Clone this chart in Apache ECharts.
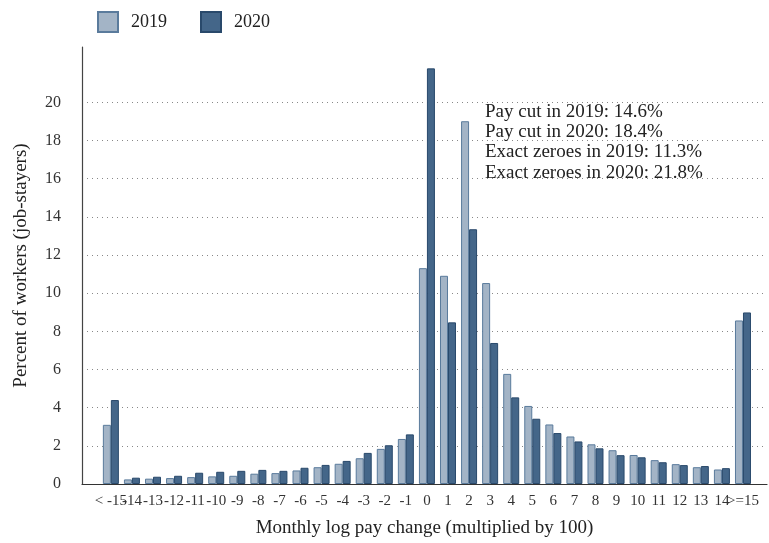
<!DOCTYPE html>
<html>
<head>
<meta charset="utf-8">
<script src="https://cdn.jsdelivr.net/npm/echarts@6/dist/echarts.min.js"></script>
<style>html,body{margin:0;padding:0;background:#fff}#c{width:769px;height:543px}</style>
</head>
<body>
<div id="c"></div>
<script>
// Category positions (-15 = "< -15", 15 = ">=15")
const positions = [-15,-14,-13,-12,-11,-10,-9,-8,-7,-6,-5,-4,-3,-2,-1,0,1,2,3,4,5,6,7,8,9,10,11,12,13,14,15];
const tickLabels = ['< -15','-14','-13','-12','-11','-10','-9','-8','-7','-6','-5','-4','-3','-2','-1','0','1','2','3','4','5','6','7','8','9','10','11','12','13','14','>=15'];
const values2019 = [3.10,0.24,0.28,0.31,0.36,0.40,0.43,0.54,0.57,0.71,0.88,1.06,1.35,1.84,2.36,11.31,10.91,19.01,10.53,5.77,4.09,3.12,2.49,2.08,1.77,1.52,1.25,1.04,0.88,0.76,8.57];
const values2020 = [4.40,0.33,0.38,0.43,0.59,0.64,0.69,0.74,0.69,0.85,1.00,1.21,1.63,2.03,2.60,21.78,8.47,13.35,7.39,4.54,3.42,2.67,2.23,1.87,1.51,1.40,1.14,0.99,0.94,0.83,8.99];
const yTicks = [0,2,4,6,8,10,12,14,16,18,20];
const notes = ['Pay cut in 2019: 14.6%','Pay cut in 2020: 18.4%','Exact zeroes in 2019: 11.3%','Exact zeroes in 2020: 21.8%'];

const FONT = '"Liberation Serif", "DejaVu Serif", serif';
const labelMap = {};
positions.forEach((p,i)=>labelMap[p]=tickLabels[i]);
const innerPositions = positions.slice(1, -1);
const endPositions = [positions[0], positions[positions.length-1]];
const fmt = v => labelMap[v] !== undefined ? labelMap[v] : '';
const X_MIN = -16.37, X_MAX = 16.14;

const chart = echarts.init(document.getElementById('c'), null, {renderer:'canvas'});
chart.setOption({
  animation:false,
  textStyle:{fontFamily:FONT},
  legend:{
    left:97, top:11, padding:0, itemWidth:20, itemHeight:20, itemGap:33, icon:'rect',
    textStyle:{fontFamily:FONT,fontSize:18,color:'#222',padding:[0,0,0,8]},
    data:['2019','2020']
  },
  grid:{left:82, right:2, top:47, bottom:55, containLabel:false},
  xAxis:[{
    type:'value', min:X_MIN, max:X_MAX,
    axisLine:{show:true,onZero:false,lineStyle:{color:'#333',width:1.2}},
    axisTick:{show:false, customValues:innerPositions},
    splitLine:{show:false},
    axisLabel:{customValues:innerPositions, hideOverlap:false,
      formatter:fmt, fontFamily:FONT, fontSize:15, color:'#333', margin:10},
    name:'Monthly log pay change (multiplied by 100)', nameLocation:'middle', nameGap:35,
    nameTextStyle:{fontFamily:FONT,fontSize:19,color:'#222'}
  },{
    type:'value', min:X_MIN, max:X_MAX, position:'bottom', offset:0,
    axisLine:{show:false,onZero:false},
    axisTick:{show:false, customValues:endPositions},
    splitLine:{show:false},
    axisLabel:{customValues:endPositions, hideOverlap:false, showMinLabel:true, showMaxLabel:true,
      formatter:fmt, fontFamily:FONT, fontSize:15, color:'#333', margin:10}
  }],
  yAxis:{
    type:'value', min:0, max:22.9,
    axisLine:{show:true,onZero:false,lineStyle:{color:'#444',width:1.2}},
    axisTick:{show:false, customValues:yTicks},
    axisLabel:{customValues:yTicks, fontFamily:FONT, fontSize:16, color:'#333', margin:21},
    splitLine:{show:true, lineStyle:{type:[1,4], color:'#888', width:1}},
    name:'Percent of workers (job-stayers)', nameLocation:'middle', nameGap:51,
    nameTextStyle:{fontFamily:FONT,fontSize:19,color:'#222'}
  },
  graphic:[{
    type:'text', left:485, top:102,
    style:{text:notes.join('\n'), font:'19px '+FONT, fill:'#222', lineHeight:20.2}
  }],
  series:[
    {name:'2019', type:'bar', barWidth:8, barGap:'0%',
     data:positions.map((p,i)=>[p,values2019[i]]),
     itemStyle:{color:'#a3b4c6', borderColor:'#5a7b9c', borderWidth:1}},
    {name:'2020', type:'bar', barWidth:8, barGap:'0%',
     data:positions.map((p,i)=>[p,values2020[i]]),
     itemStyle:{color:'#446689', borderColor:'#29496b', borderWidth:1}}
  ]
});
</script>
</body>
</html>
